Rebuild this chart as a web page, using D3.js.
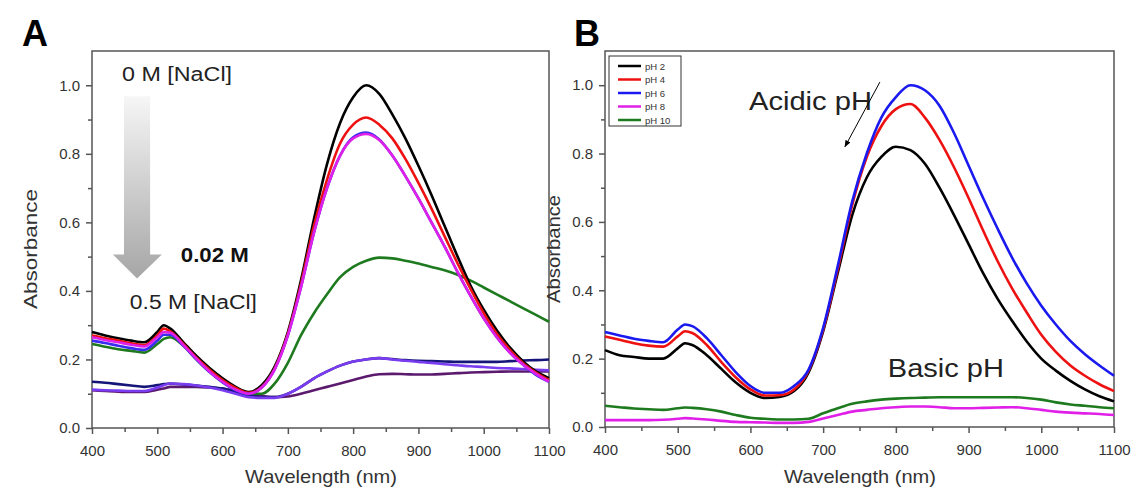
<!DOCTYPE html>
<html>
<head>
<meta charset="utf-8">
<script src="https://cdn.jsdelivr.net/npm/d3@7"></script>
<style>
  body { margin: 0; background: #fff; }
  svg { font-family: "Liberation Sans", Arial, sans-serif; }
</style>
</head>
<body>
<div id="chart"></div>
<script>
// ---- data: panel A (NaCl series) ----
const waveA = [400, 420, 440, 460, 480, 500, 510, 520, 540, 560, 580, 600, 620, 640, 660, 680, 700, 720, 740, 760, 780, 800, 820, 840, 860, 880, 900, 920, 940, 960, 980, 1000, 1020, 1040, 1060, 1080, 1100]
const aBlack = [.28, .27, .262, .255, .25, .28, .30, .29, .25, .21, .175, .145, .12, .105, .125, .18, .28, .43, .61, .77, .89, .965, 1.0, .975, .915, .845, .765, .68, .59, .50, .415, .345, .285, .235, .195, .165, .145]
const aRed = [.27, .262, .255, .247, .242, .27, .29, .282, .245, .205, .17, .14, .117, .103, .12, .175, .275, .42, .59, .725, .83, .885, .906, .885, .845, .785, .715, .64, .56, .48, .405, .335, .275, .228, .19, .162, .14]
const aBlue = [.255, .248, .24, .233, .228, .255, .272, .272, .24, .20, .163, .133, .11, .10, .118, .172, .27, .41, .57, .70, .795, .848, .862, .842, .795, .735, .67, .60, .53, .455, .385, .32, .265, .22, .185, .155, .135]
const aMagenta = [.265, .257, .25, .243, .238, .265, .28, .278, .242, .202, .165, .135, .112, .10, .118, .172, .27, .41, .57, .70, .795, .845, .858, .84, .795, .735, .67, .60, .53, .455, .385, .32, .265, .22, .185, .158, .135]
const aGreen = [.245, .237, .23, .225, .22, .245, .26, .265, .24, .20, .165, .135, .115, .10, .10, .13, .19, .27, .335, .39, .44, .47, .488, .497, .495, .488, .48, .47, .46, .447, .43, .41, .39, .37, .35, .33, .31]
const aNavy = [.135, .132, .128, .124, .12, .125, .128, .13, .127, .124, .12, .115, .105, .095, .09, .09, .10, .12, .145, .165, .182, .194, .2, .204, .201, .198, .196, .195, .194, .193, .193, .193, .193, .195, .197, .198, .2]
const aViolet = [.112, .11, .109, .108, .108, .118, .125, .13, .128, .124, .118, .11, .10, .09, .088, .088, .10, .12, .145, .165, .182, .194, .2, .204, .2, .196, .193, .19, .186, .183, .18, .178, .175, .174, .172, .17, .168]
const aPurple = [.11, .108, .106, .105, .105, .112, .115, .12, .12, .12, .118, .115, .108, .10, .094, .09, .092, .10, .11, .12, .13, .14, .15, .157, .158, .157, .156, .156, .158, .16, .162, .163, .164, .165, .165, .165, .165]

const seriesA = [
  { name: "purple", color: "#5b1a6e", values: aPurple },
  { name: "navy", color: "#16167a", values: aNavy },
  { name: "violet", color: "#7a3cf0", values: aViolet },
  { name: "green", color: "#1e7a1e", values: aGreen },
  { name: "black", color: "#000000", values: aBlack },
  { name: "red", color: "#ee1111", values: aRed },
  { name: "blue", color: "#3a2cf0", values: aBlue },
  { name: "magenta", color: "#e020e8", values: aMagenta }
]

// ---- data: panel B (pH series) ----
const waveB = [400, 420, 440, 460, 480, 500, 510, 520, 540, 560, 580, 600, 620, 640, 660, 680, 700, 720, 740, 760, 780, 800, 820, 840, 860, 880, 900, 920, 940, 960, 980, 1000, 1020, 1040, 1060, 1080, 1100]
const bPH2 = [.225, .21, .205, .20, .20, .23, .245, .24, .21, .17, .13, .10, .085, .088, .105, .16, .28, .45, .62, .73, .79, .82, .81, .77, .70, .62, .535, .45, .375, .31, .25, .20, .165, .135, .11, .09, .075]
const bPH4 = [.265, .255, .245, .238, .235, .265, .28, .275, .24, .19, .145, .11, .092, .093, .11, .165, .285, .46, .65, .79, .88, .93, .945, .905, .84, .76, .67, .575, .485, .405, .335, .27, .22, .18, .15, .125, .105]
const bPH6 = [.278, .268, .258, .252, .248, .285, .30, .295, .26, .21, .16, .12, .10, .10, .12, .168, .29, .47, .66, .80, .905, .965, 1.0, .985, .94, .86, .765, .67, .58, .495, .42, .355, .30, .252, .213, .18, .15]
const bPH8 = [.02, .02, .02, .02, .021, .024, .026, .025, .022, .018, .015, .014, .013, .012, .012, .015, .025, .035, .045, .05, .055, .058, .06, .06, .058, .055, .055, .056, .057, .058, .055, .05, .045, .042, .04, .038, .035]
const bPH10 = [.062, .058, .054, .052, .05, .055, .057, .056, .052, .045, .035, .027, .024, .022, .022, .024, .04, .055, .068, .075, .08, .083, .085, .086, .087, .087, .087, .087, .087, .087, .085, .08, .072, .066, .062, .058, .055]

const seriesB = [
  { name: "pH 2", color: "#000000", values: bPH2 },
  { name: "pH 4", color: "#ee1111", values: bPH4 },
  { name: "pH 6", color: "#1a1af0", values: bPH6 },
  { name: "pH 8", color: "#e020e8", values: bPH8 },
  { name: "pH 10", color: "#1e7a1e", values: bPH10 }
]

const xTicks = [400, 500, 600, 700, 800, 900, 1000, 1100]
const yTicks = [0.0, 0.2, 0.4, 0.6, 0.8, 1.0]

const W = 1136, H = 492
const svg = d3.select('#chart').append('svg').attr('width', W).attr('height', H)

const axisColor = "#555"
const labelColor = "#333"

function panel(opt) {
  const x = d3.scaleLinear().domain([400, 1100]).range([opt.left, opt.right])
  const y = d3.scaleLinear().domain([0, 1.1]).range([opt.bottom, opt.top])
  const g = svg.append('g')

  // frame
  g.append('rect').attr('x', opt.left).attr('y', opt.top)
    .attr('width', opt.right - opt.left).attr('height', opt.bottom - opt.top)
    .attr('fill', 'none').attr('stroke', axisColor).attr('stroke-width', 1.5)

  // x axis
  const xa = g.append('g').attr('transform', `translate(0,${opt.bottom})`)
    .call(d3.axisBottom(x).tickValues(xTicks).tickSize(6).tickPadding(11).tickFormat(d3.format('d')))
  xa.select('.domain').remove()
  xa.selectAll('line').attr('stroke', axisColor).attr('stroke-width', 1.5)
  xa.selectAll('text').attr('fill', labelColor).style('font-size', '15px')
  const xm = g.append('g').attr('transform', `translate(0,${opt.bottom})`)
    .call(d3.axisBottom(x).tickValues(d3.range(450, 1100, 100)).tickSize(4).tickFormat(''))
  xm.select('.domain').remove()
  xm.selectAll('line').attr('stroke', axisColor).attr('stroke-width', 1.5)

  // y axis
  const ya = g.append('g').attr('transform', `translate(${opt.left},0)`)
    .call(d3.axisLeft(y).tickValues(yTicks).tickSize(6).tickPadding(6).tickFormat(d3.format('.1f')))
  ya.select('.domain').remove()
  ya.selectAll('line').attr('stroke', axisColor).attr('stroke-width', 1.5)
  ya.selectAll('text').attr('fill', labelColor).style('font-size', '15px')
  const ym = g.append('g').attr('transform', `translate(${opt.left},0)`)
    .call(d3.axisLeft(y).tickValues([0.1, 0.3, 0.5, 0.7, 0.9]).tickSize(4).tickFormat(''))
  ym.select('.domain').remove()
  ym.selectAll('line').attr('stroke', axisColor).attr('stroke-width', 1.5)

  // axis titles
  g.append('text').attr('x', opt.xTitleX).attr('y', 483)
    .attr('text-anchor', 'middle').attr('fill', labelColor).style('font-size', '19px')
    .attr('textLength', 152).attr('lengthAdjust', 'spacingAndGlyphs')
    .text('Wavelength (nm)')
  g.append('text').attr('transform', `translate(${opt.yTitleX},249) rotate(-90)`)
    .attr('text-anchor', 'middle').attr('fill', labelColor).style('font-size', '19px')
    .attr('textLength', opt.yTitleLen).attr('lengthAdjust', 'spacingAndGlyphs')
    .text('Absorbance')

  // panel letter
  g.append('text').attr('x', opt.letterX).attr('y', 46)
    .style('font-size', '36px').style('font-weight', 'bold').attr('fill', '#000')
    .text(opt.letter)

  // curves
  const line = d3.line().x((d, i) => x(opt.wave[i])).y(d => y(d)).curve(d3.curveMonotoneX)
  g.append('g').selectAll('path').data(opt.series).join('path')
    .attr('d', d => line(d.values))
    .attr('fill', 'none').attr('stroke', d => d.color).attr('stroke-width', 2.6)
    .attr('stroke-linejoin', 'round')

  return { g, x, y }
}

// ---- panel A ----
const A = panel({ left: 92, right: 549, top: 51, bottom: 428, wave: waveA, series: seriesA,
  letter: 'A', letterX: 22, yTitleX: 37, yTitleLen: 120, xTitleX: 321 })

const defs = svg.append('defs')
const grad = defs.append('linearGradient').attr('id', 'arrowGrad')
  .attr('x1', 0).attr('y1', 0).attr('x2', 0).attr('y2', 1)
grad.append('stop').attr('offset', '0%').attr('stop-color', '#f6f6f6')
grad.append('stop').attr('offset', '100%').attr('stop-color', '#a6a6a6')

const arrowPts = [[449, 0.968], [489, 0.968], [489, 0.506], [507, 0.506], [469, 0.436], [432, 0.506], [449, 0.506]]
A.g.append('polygon')
  .attr('points', arrowPts.map(p => [A.x(p[0]), A.y(p[1])].join(',')).join(' '))
  .attr('fill', 'url(#arrowGrad)')

A.g.append('text').attr('x', A.x(446)).attr('y', A.y(1.012)).style('font-size', '20px').attr('fill', '#222')
  .attr('textLength', 110).attr('lengthAdjust', 'spacingAndGlyphs').text('0 M [NaCl]')
A.g.append('text').attr('x', A.x(536)).attr('y', A.y(0.483)).style('font-size', '20px')
  .style('font-weight', 'bold').attr('fill', '#111')
  .attr('textLength', 68).attr('lengthAdjust', 'spacingAndGlyphs').text('0.02 M')
A.g.append('text').attr('x', A.x(458)).attr('y', A.y(0.348)).style('font-size', '20px').attr('fill', '#222')
  .attr('textLength', 127).attr('lengthAdjust', 'spacingAndGlyphs').text('0.5 M [NaCl]')

// ---- panel B ----
const B = panel({ left: 605, right: 1114, top: 51, bottom: 427, wave: waveB, series: seriesB,
  letter: 'B', letterX: 574, yTitleX: 560, yTitleLen: 108, xTitleX: 860 })

// legend
const lg = B.g.append('g')
lg.append('rect').attr('x', 609).attr('y', 56).attr('width', 72).attr('height', 70)
  .attr('fill', '#fff').attr('stroke', '#333').attr('stroke-width', 1)
seriesB.forEach((s, i) => {
  const yy = 66 + i * 13.5
  lg.append('line').attr('x1', 618).attr('x2', 641).attr('y1', yy).attr('y2', yy)
    .attr('stroke', s.color).attr('stroke-width', 2.5)
  lg.append('text').attr('x', 645).attr('y', yy + 3.5).style('font-size', '9.5px').attr('fill', '#333')
    .text(s.name)
})

B.g.append('text').attr('x', B.x(598)).attr('y', B.y(0.927)).style('font-size', '26px').attr('fill', '#222')
  .attr('textLength', 123).attr('lengthAdjust', 'spacingAndGlyphs').text('Acidic pH')
B.g.append('text').attr('x', B.x(789)).attr('y', B.y(0.146)).style('font-size', '26px').attr('fill', '#222')
  .attr('textLength', 116).attr('lengthAdjust', 'spacingAndGlyphs').text('Basic pH')

defs.append('marker').attr('id', 'ah').attr('viewBox', '0 0 10 10').attr('refX', 9).attr('refY', 5)
  .attr('markerWidth', 7).attr('markerHeight', 7).attr('orient', 'auto')
  .append('path').attr('d', 'M0,1 L10,5 L0,9 Z').attr('fill', '#000')
B.g.append('line').attr('x1', B.x(778)).attr('y1', B.y(1.009)).attr('x2', B.x(730)).attr('y2', B.y(0.82))
  .attr('stroke', '#000').attr('stroke-width', 1).attr('marker-end', 'url(#ah)')
</script>
</body>
</html>
